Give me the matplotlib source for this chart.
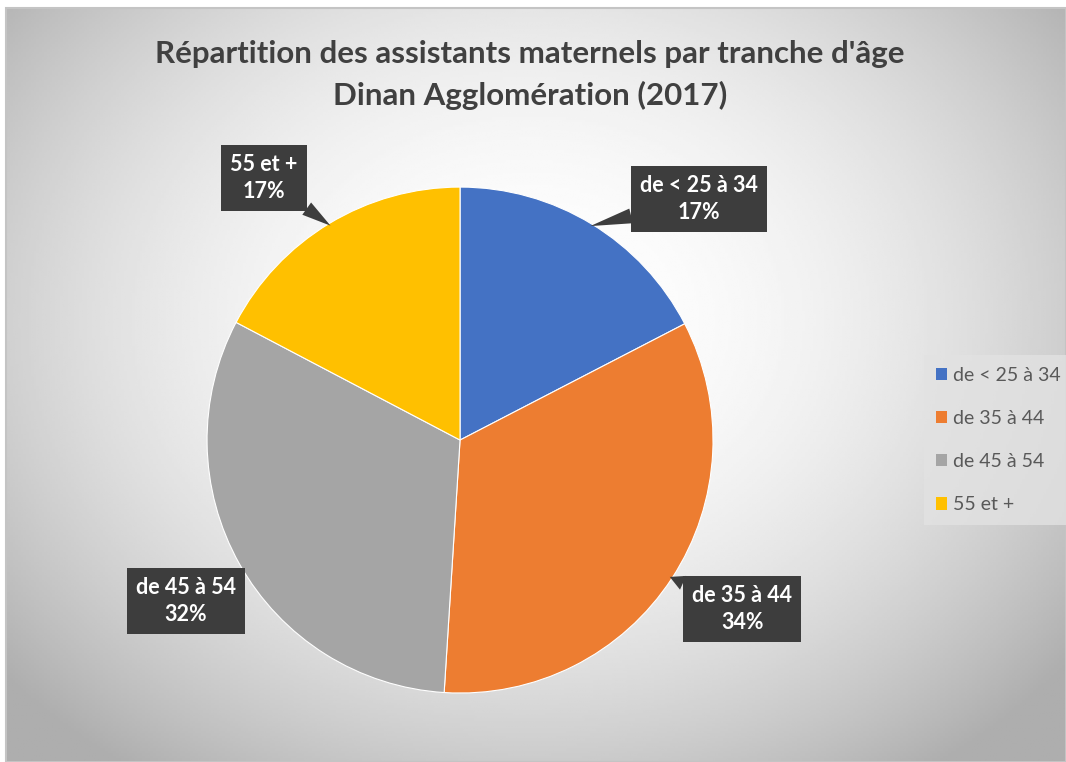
import numpy as np
import matplotlib.pyplot as plt
from matplotlib.patches import Patch, Rectangle

plt.rcParams['font.family'] = ['Lato', 'DejaVu Sans']

# donnees
tranches = ['de < 25 à 34', 'de 35 à 44', 'de 45 à 54', '55 et +']
valeurs = [17.4, 33.6, 31.7, 17.3]
couleurs = ['#4472C4', '#ED7D31', '#A5A5A5', '#FFC000']
titre = "Répartition des assistants maternels par tranche d'âge\nDinan Agglomération (2017)"

# position des etiquettes (unites du camembert, rayon = 1)
pos_etiquettes = [(0.945, 0.953), (1.115, -0.668), (-1.083, -0.636), (-0.775, 1.036)]
avec_fleche = [True, True, False, True]

W, H = 1066, 762
fig = plt.figure(figsize=(W / 100, H / 100), dpi=100)

# fond en degrade radial
fond = fig.add_axes([6 / W, 0, 1 - 6 / W, 1 - 8 / H])
xx, yy = np.meshgrid(np.linspace(6, W, 400), np.linspace(8, H, 300))
d2 = ((xx - 530) / 600) ** 2 + ((yy - 320) / 480) ** 2
img = 1 - 0.24 * d2
img = np.clip(img, 0.68, 1)
fond.imshow(img, cmap='gray', vmin=0, vmax=1, aspect='auto', extent=[0, 1, 0, 1])
fond.axis('off')
fig.patches.append(Rectangle((6 / W, 0), 1 - 6 / W, 1 - 8 / H, transform=fig.transFigure,
                             fill=False, ec='#c4c4c4', lw=1.5))

# camembert
ax = fig.add_axes([0.1705, 0.0573, 0.5221, 0.7304])
ax.pie(valeurs, colors=couleurs, startangle=90, counterclock=False,
       wedgeprops=dict(edgecolor='white', linewidth=0.8))
ax.set_xlim(-1.1, 1.1)
ax.set_ylim(-1.1, 1.1)
ax.axis('off')

# etiquettes en bulles
total = sum(valeurs)
cumul = 0
for i in range(len(valeurs)):
    milieu = 90 - 360 * (cumul + valeurs[i] / 2) / total
    cumul += valeurs[i]
    pointe = (0.99 * np.cos(np.radians(milieu)), 0.99 * np.sin(np.radians(milieu)))
    texte = tranches[i] + '\n' + str(round(valeurs[i] / total * 100)) + '%'
    fleche = None
    if avec_fleche[i]:
        fleche = dict(arrowstyle='wedge,tail_width=0.7', fc='#3d3d3d', ec='none',
                      shrinkA=0, shrinkB=0)
    ax.annotate(texte, xy=pointe, xytext=pos_etiquettes[i], ha='center', va='center',
                color='white', fontsize=15.5, fontweight='bold', linespacing=1.3,
                bbox=dict(boxstyle='square,pad=0.42', fc='#3d3d3d', ec='none'),
                arrowprops=fleche, annotation_clip=False)

# titre
fig.text(530 / W, 1 - 75 / H, titre, ha='center', va='center', fontsize=22.5,
         fontweight='bold', color='#404040', linespacing=1.5)

# legende
poignees = [Patch(facecolor=c, edgecolor='none') for c in couleurs]
leg = fig.legend(poignees, tranches, loc='center left', bbox_to_anchor=(924 / W, 1 - 440 / H),
                 frameon=True, facecolor='#e2e2e2', edgecolor='none', fancybox=False,
                 handlelength=0.6, handleheight=0.6, handletextpad=0.3, labelspacing=1.35,
                 fontsize=14, labelcolor='#595959', borderpad=0.6, borderaxespad=0)
leg.get_frame().set_alpha(0.8)

fig.savefig('out.png', dpi=100)
